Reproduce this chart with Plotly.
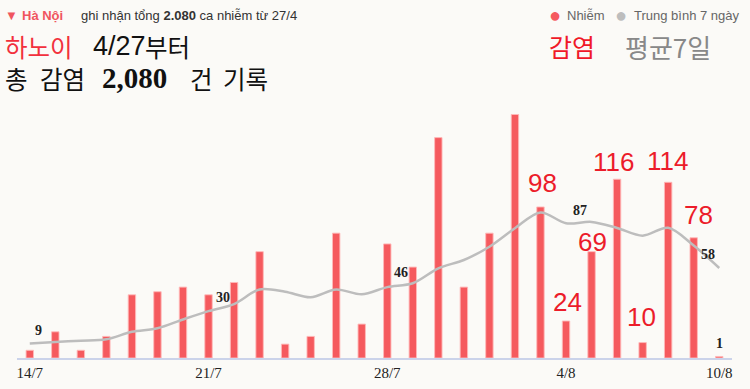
import plotly.graph_objects as go

dates = ["14/7","15/7","16/7","17/7","18/7","19/7","20/7","21/7","22/7","23/7","24/7","25/7","26/7","27/7",
         "28/7","29/7","30/7","31/7","1/8","2/8","3/8","4/8","5/8","6/8","7/8","8/8","9/8","10/8"]
cases = [5,17,5,14,41,43,46,41,49,69,9,14,81,22,74,59,143,46,81,158,98,24,69,116,10,114,78,1]
avg7 = [9.4,10.4,11.2,12.1,17,19.3,25,30.4,35,44.5,43,39.4,44.5,41.3,46,48.5,58.2,63.6,72.2,84.2,94.4,87.4,88.3,84.4,79.4,84.5,73,58.4]
tick_idx = [0,7,14,21,27]
tick_text = ["14/7","21/7","28/7","4/8","10/8"]
big_label_idx = [20,21,22,23,24,25,26]
avg_label_idx = [0,7,14,21,27]
last_label_idx = [27]

BG = "#fbfaf7"
RED = "#f55a5e"
LBL_RED = "#ec1c2a"
GRAY = "#bdbdbd"
KR = "Noto Sans CJK KR"

x = list(range(len(dates)))
fig = go.Figure()
fig.add_trace(go.Bar(x=x, y=cases, width=0.29,
                     marker=dict(color=RED, line=dict(color="rgba(255,185,185,0.9)", width=1)),
                     hoverinfo="skip", showlegend=False))
fig.add_trace(go.Scatter(x=x, y=avg7, mode="lines",
                         line=dict(color=GRAY, width=2.5, shape="spline", smoothing=0.9),
                         hoverinfo="skip", showlegend=False))

ann = []
big_shift = {20:(2,24),21:(1,19),22:(1,10),23:(-4,17),24:(-1,26),25:(-1,21),26:(5,23)}
for i in big_label_idx:
    dx, dy = big_shift[i]
    ann.append(dict(x=i, y=cases[i], xref="x", yref="y", text=str(cases[i]), showarrow=False,
                    xshift=dx, yshift=dy, yanchor="middle",
                    font=dict(family="Liberation Sans", size=26, color=LBL_RED)))
avg_shift = {0:(9,13),7:(14,14),14:(14,15),21:(14,13),27:(-11,13)}
for i in avg_label_idx:
    dx, dy = avg_shift[i]
    ann.append(dict(x=i, y=avg7[i], xref="x", yref="y", text=str(round(avg7[i])), showarrow=False,
                    xshift=dx, yshift=dy, yanchor="middle",
                    font=dict(family="Liberation Serif", size=14, color="#222", weight="bold")))
for i in last_label_idx:
    ann.append(dict(x=i, y=cases[i], xref="x", yref="y", text=str(cases[i]), showarrow=False,
                    yshift=13, yanchor="middle",
                    font=dict(family="Liberation Serif", size=14, color="#222", weight="bold")))

W, H = 750, 389
L, R, T, B = 17, 18, 100, 31
pw, ph = W - L - R, H - T - B
def px(xp):
    return (xp - L) / pw
def py(yp):
    return (H - B - yp) / ph

def header(xp, yp, text, size, color, family="Liberation Sans", anchor="left", weight="normal"):
    ann.append(dict(x=px(xp), y=py(yp), xref="paper", yref="paper", text=text, showarrow=False,
                    xanchor=anchor, yanchor="middle", xshift=0,
                    font=dict(family=family, size=size, color=color, weight=weight)))

header(3, 15, "▼", 13, "#f0555f")
header(20, 15, "<b>Hà Nội</b>", 13, "#f0555f")
header(79, 15, "ghi nhận tổng <b>2.080</b> ca nhiễm từ 27/4", 13, "#333")
header(3, 46, "하노이", 24.5, "#f2303d", family=KR)
header(91, 46, "4/27", 27, "#111", family="Liberation Sans")
header(143, 46, "부터", 24.5, "#111", family=KR)
header(3, 78, "총", 24.5, "#111", family=KR)
header(38, 78, "감염", 24.5, "#111", family=KR)
header(100, 78, "2,080", 29, "#111", family="Liberation Serif", weight="bold")
header(188, 78, "건", 24.5, "#111", family=KR)
header(221, 78, "기록", 24.5, "#111", family=KR)
header(547, 15, "●", 20, RED)
header(565, 15, "Nhiễm", 13, "#666")
header(613, 15, "●", 20, GRAY)
header(632, 15, "Trung bình 7 ngày", 13, "#666")
header(547, 46, "감염", 25, "#f01828", family=KR)
header(623, 46, "평균7일", 26, "#888", family=KR)

fig.update_layout(
    width=W, height=H, margin=dict(l=L, r=R, t=T, b=B),
    paper_bgcolor=BG, plot_bgcolor=BG,
    xaxis=dict(range=[-0.5, 27.5], tickmode="array", tickvals=tick_idx, ticktext=tick_text,
               showgrid=False, zeroline=False, showline=True, linecolor="#cbd3ea", linewidth=1.5,
               automargin=False,
               ticks="", tickfont=dict(family="Liberation Serif", size=15, color="#222"), fixedrange=True),
    yaxis=dict(range=[0, 167.4], visible=False, showgrid=False, zeroline=False, fixedrange=True,
               automargin=False),
    annotations=ann,
    showlegend=False,
)
fig.write_html("out.html", config={"displayModeBar": False},
               post_script="document.body.style.margin='0';document.body.style.background='%s';" % BG)
